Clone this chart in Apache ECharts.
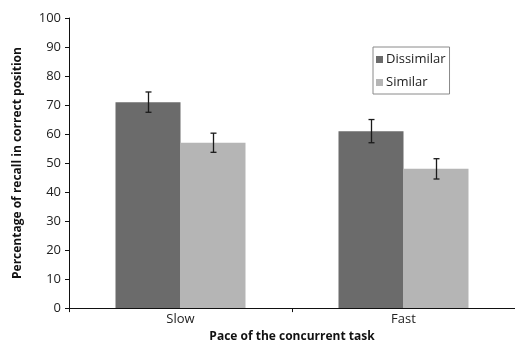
<!DOCTYPE html>
<html><head><meta charset="utf-8">
<script src="https://cdn.jsdelivr.net/npm/echarts@6/dist/echarts.min.js"></script>
<style>html,body{margin:0;padding:0;background:#fff}#c{width:515px;height:348px}</style>
</head><body><div id="c"></div>
<script>
const categories = ["Slow", "Fast"];
const dissimilar = [71, 61];
const similar = [57, 48];
const dissimilarErr = [3.5, 4];
const similarErr = [3.3, 3.5];
const yTicks = [0, 10, 20, 30, 40, 50, 60, 70, 80, 90, 100];

const chart = echarts.init(document.getElementById('c'));
const font = '"Open Sans", "Noto Sans", sans-serif';
const barW = 65;

function errSeries(vals, errs, offset) {
  return {
    type: 'custom',
    z: 5,
    silent: true,
    data: vals.map((v, i) => [i, v - errs[i], v + errs[i]]),
    renderItem: function (params, api) {
      const lo = api.coord([api.value(0), api.value(1)]);
      const hi = api.coord([api.value(0), api.value(2)]);
      const x = Math.round(lo[0] + offset) + 0.5;
      const cap = 3;
      const st = { stroke: '#1a1a1a', lineWidth: 1.3 };
      return { type: 'group', children: [
        { type: 'line', shape: { x1: x, y1: hi[1], x2: x, y2: lo[1] }, style: st },
        { type: 'line', shape: { x1: x - cap, y1: hi[1], x2: x + cap, y2: hi[1] }, style: st },
        { type: 'line', shape: { x1: x - cap, y1: lo[1], x2: x + cap, y2: lo[1] }, style: st }
      ]};
    }
  };
}

chart.setOption({
  animation: false,
  backgroundColor: '#fff',
  grid: { left: 69, top: 18, width: 453, height: 294 },
  legend: {
    data: ['Dissimilar', 'Similar'],
    orient: 'vertical',
    left: 373, top: 47,
    padding: [6, 4, 5, 3],
    itemGap: 10,
    itemWidth: 7, itemHeight: 7,
    icon: 'rect',
    borderColor: '#8a8a8a', borderWidth: 1,
    textStyle: { fontFamily: font, fontSize: 13, color: '#222', padding: [0, 0, 0, -2] }
  },
  xAxis: {
    type: 'category',
    data: categories,
    name: 'Pace of the concurrent task',
    nameLocation: 'middle',
    nameGap: 22,
    nameTextStyle: { fontFamily: font, fontSize: 12, fontWeight: 'bold', color: '#111' },
    axisLine: { lineStyle: { color: '#111', width: 1 } },
    axisTick: { show: true, length: 4, lineStyle: { color: '#111' } },
    axisLabel: { fontFamily: font, fontSize: 13, color: '#222', margin: 5 }
  },
  yAxis: {
    type: 'value',
    min: yTicks[0], max: yTicks[yTicks.length - 1], interval: 10,
    name: 'Percentage of recall in correct position',
    nameLocation: 'middle',
    nameGap: 45,
    nameTextStyle: { fontFamily: font, fontSize: 12, fontWeight: 'bold', color: '#111' },
    axisLine: { show: true, lineStyle: { color: '#111', width: 1 } },
    axisTick: { show: true, length: 4, lineStyle: { color: '#111' } },
    axisLabel: { fontFamily: font, fontSize: 13, color: '#222', margin: 8 },
    splitLine: { show: false }
  },
  series: [
    { name: 'Dissimilar', type: 'bar', data: dissimilar, barWidth: barW, barGap: '0%',
      itemStyle: { color: '#6b6b6b' } },
    { name: 'Similar', type: 'bar', data: similar, barWidth: barW, barGap: '0%',
      itemStyle: { color: '#b5b5b5' } },
    errSeries(dissimilar, dissimilarErr, -barW / 2),
    errSeries(similar, similarErr, barW / 2)
  ]
});
</script></body></html>
